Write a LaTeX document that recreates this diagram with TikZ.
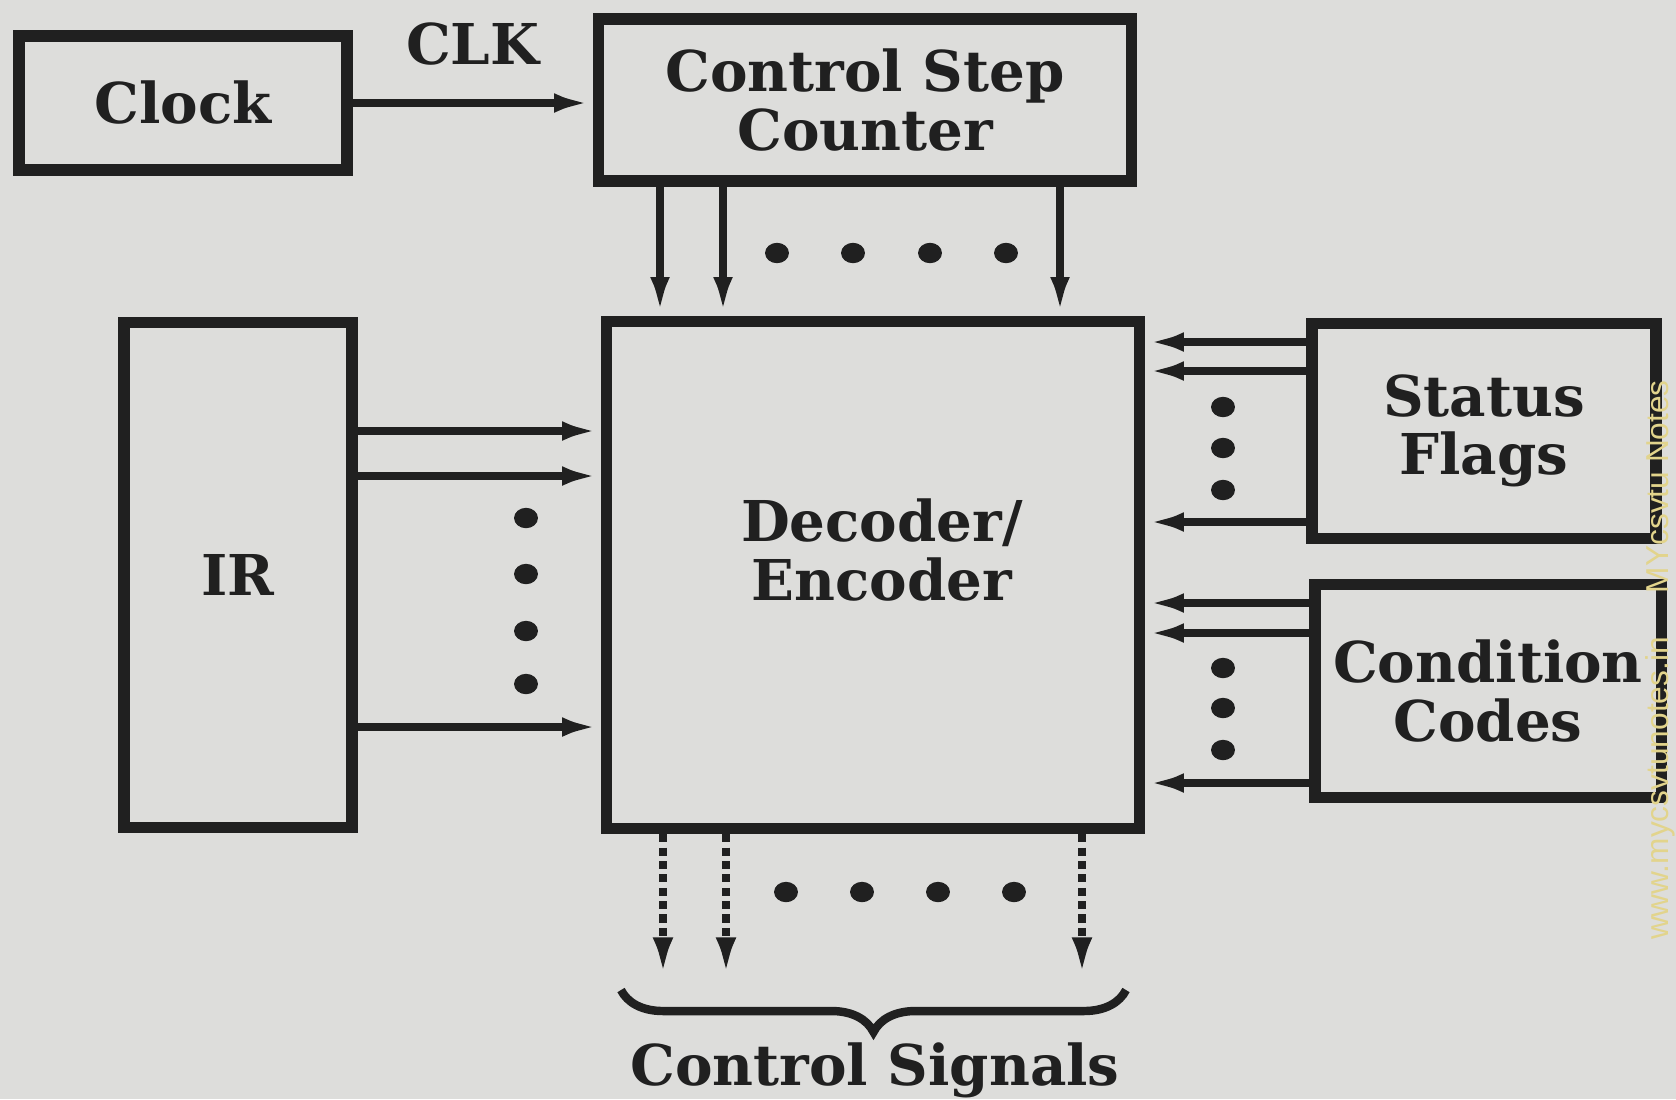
\documentclass[tikz,border=0pt]{standalone}
\usepackage{fontspec}
\setmainfont{DejaVu Serif}
\newfontfamily\markfont{Liberation Sans}
\usetikzlibrary{arrows.meta,decorations.pathreplacing}

\definecolor{paper}{RGB}{221,221,219}
\definecolor{ink}{RGB}{32,32,32}
\definecolor{mark}{RGB}{226,212,140}

\begin{document}
\begin{tikzpicture}[x=0.01cm, y=-0.01cm,
    box/.style={draw=ink, line width=3.2pt, inner sep=0pt, align=center, text=ink,
        font=\fontsize{16}{16.5}\selectfont\bfseries},
    boxtext/.style={align=center, text=ink, font=\fontsize{16}{16.5}\selectfont\bfseries},
    sig/.style={draw=ink, line width=2.3pt, -{Latex[length=11pt,width=5.4pt]}},
    sigdash/.style={draw=ink, line width=2.3pt, dash pattern=on 2.3pt off 1.5pt,
        -{Latex[length=11pt,width=5.8pt]}},
    dot/.style={fill=ink}]

    % Paper and frame
    \fill[paper] (0,0) rectangle (1676,1099);
    \useasboundingbox (0,0) rectangle (1676,1099);

    % Define the blocks
    \node[box, minimum width=3.28cm, minimum height=1.34cm] (clock) at (183,103) {Clock};
    \node[box, minimum width=5.33cm, minimum height=1.62cm] (counter) at (865,100) {Control Step\\Counter};
    \node[box, minimum width=5.33cm, minimum height=5.07cm] (dec) at (873,575) {};
    \node[boxtext] (declabel) at (882,550) {Decoder/\\Encoder};
    \node[box, minimum width=2.28cm, minimum height=5.05cm] (ir) at (238,575) {IR};
    \node[box, minimum width=3.44cm, minimum height=2.15cm] (flags) at (1484,431) {Status\\Flags};
    \node[box, minimum width=3.46cm, minimum height=2.13cm] (codes) at (1488,691) {Condition\\Codes};

    % Draw the clock line
    \draw[sig] (clock.east) -- (clock.east -| counter.west)
        node[midway, above=0.22cm, boxtext] (clk) {CLK};

    % Draw the step lines
    \foreach \x in {660,723,1060}
        \draw[sig] (counter.south -| \x,0) -- (dec.north -| \x,0);
    \foreach \x in {777,853,930,1006}
        \fill[dot] (\x,253) ellipse[x radius=3.4pt, y radius=2.9pt];

    % Draw the IR lines
    \foreach \y in {431,476,727}
        \draw[sig] (ir.east |- 0,\y) -- (dec.west |- 0,\y);
    \foreach \y in {518,574,631,684}
        \fill[dot] (526,\y) ellipse[x radius=3.4pt, y radius=2.9pt];

    % Draw the flag and code lines
    \foreach \y in {342,371,522}
        \draw[sig] (flags.west |- 0,\y) -- (dec.east |- 0,\y);
    \foreach \y in {603,633,783}
        \draw[sig] (codes.west |- 0,\y) -- (dec.east |- 0,\y);
    \foreach \y in {407,448,490,668,708,750}
        \fill[dot] (1223,\y) ellipse[x radius=3.4pt, y radius=2.9pt];

    % Draw the control signal lines
    \foreach \x/\n in {663/1,726/2,1082/3} {
        \coordinate (out\n) at (\x,976);
        \draw[sigdash] (dec.south -| out\n) -- (out\n);
    }
    \foreach \x in {786,862,938,1014}
        \fill[dot] (\x,892) ellipse[x radius=3.4pt, y radius=2.9pt];

    % Brace and its label
    \coordinate (braceL) at (621,990);
    \coordinate (braceR) at (1126,990);
    \draw[ink, line width=2.4pt, decorate, decoration={brace, mirror, amplitude=0.42cm}]
        (braceL) -- (braceR);
    \node[boxtext] (csig) at (875,1070) {Control Signals};

    % Watermark
    \node[rotate=90, text=mark, font=\markfont\fontsize{9}{9}\selectfont] (wmark) at (1660,660)
        {www.mycsvtunotes.in\hspace{1.4em}MYcsvtu Notes};

\end{tikzpicture}
\end{document}
